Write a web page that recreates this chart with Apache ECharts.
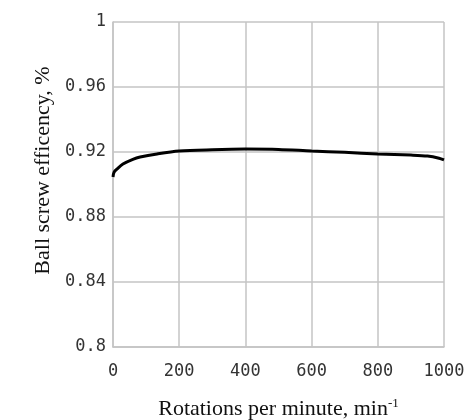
<!DOCTYPE html>
<html>
<head>
<meta charset="utf-8">
<script src="https://cdn.jsdelivr.net/npm/echarts@6/dist/echarts.min.js"></script>
<style>
  html, body { margin: 0; padding: 0; background: #fff; }
  #chart { width: 473px; height: 420px; }
</style>
</head>
<body>
<div id="chart"></div>
<script>
// rotations per minute and ball screw efficiency
const rpm = [0, 3, 12, 30, 60, 82, 133, 200, 300, 400, 500, 600, 700, 800, 900, 950, 985, 1000];
const efficiency = [0.9046, 0.9075, 0.9095, 0.9126, 0.9155, 0.9169, 0.9188, 0.9206, 0.9214, 0.9218, 0.9216, 0.9206, 0.9198, 0.9188, 0.9181, 0.9175, 0.9162, 0.9151];
const xTicks = [0, 200, 400, 600, 800, 1000];
const yTicks = [0.8, 0.84, 0.88, 0.92, 0.96, 1];

const gridColor = '#c4c4c4';
const tickFont = "'DejaVu Sans Mono', monospace";
const titleFont = "'Liberation Serif', 'Times New Roman', serif";

const chart = echarts.init(document.getElementById('chart'));
chart.setOption({
  backgroundColor: '#fff',
  animation: false,
  grid: { left: 113, top: 22, right: 29, bottom: 73, outerBoundsMode: 'none', containLabel: false },
  xAxis: {
    type: 'value',
    min: xTicks[0],
    max: xTicks[xTicks.length - 1],
    interval: 200,
    name: '{t|Rotations per minute, min}{s|-1}',
    nameLocation: 'middle',
    nameGap: 50,
    nameTextStyle: {
      rich: {
        t: { fontFamily: titleFont, fontSize: 22, color: '#111' },
        s: { fontFamily: titleFont, fontSize: 13, color: '#111', verticalAlign: 'top', padding: [0, 0, 12, 0] }
      }
    },
    axisLine: { lineStyle: { color: gridColor, width: 1.5 } },
    axisTick: { show: false },
    axisLabel: { margin: 16, fontFamily: tickFont, fontSize: 17, color: '#333', formatter: v => String(v) },
    splitLine: { show: true, lineStyle: { color: gridColor, width: 1.5 } }
  },
  yAxis: {
    type: 'value',
    min: yTicks[0],
    max: yTicks[yTicks.length - 1],
    interval: 0.04,
    name: 'Ball screw efficency, %',
    nameLocation: 'middle',
    nameGap: 50,
    nameTextStyle: { fontFamily: titleFont, fontSize: 22, color: '#111', padding: [0, 0, 0, 28] },
    axisLine: { show: true, lineStyle: { color: gridColor, width: 1.5 } },
    axisTick: { show: false },
    axisLabel: {
      margin: 7, fontFamily: tickFont, fontSize: 17, color: '#333',
      formatter: v => (Math.abs(v - 1) < 1e-9 ? '1' : String(+v.toFixed(2)))
    },
    splitLine: { show: true, lineStyle: { color: gridColor, width: 1.5 } }
  },
  series: [{
    type: 'line',
    data: rpm.map((r, i) => [r, efficiency[i]]),
    smooth: 0.3,
    showSymbol: false,
    lineStyle: { color: '#000', width: 3 }
  }]
});
</script>
</body>
</html>
